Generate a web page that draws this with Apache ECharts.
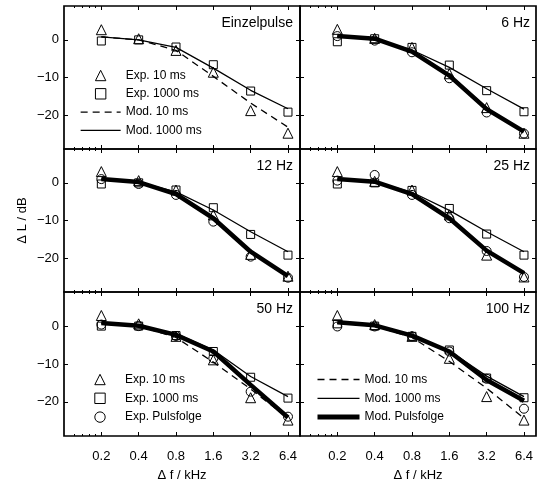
<!DOCTYPE html>
<html><head><meta charset="utf-8">
<script src="https://cdn.jsdelivr.net/npm/echarts@6/dist/echarts.min.js"></script>
<style>html,body{margin:0;padding:0;background:#fff}#c{width:539px;height:484px}</style>
</head><body><div id="c"></div>
<script>
// ---- data ----
const freqs = [0.2, 0.4, 0.8, 1.6, 3.2, 6.4];
const xTickLabels = ['0.2', '0.4', '0.8', '1.6', '3.2', '6.4'];
const minorTicks = [0.12, 0.14, 0.16, 0.18];
const yTicks = [-20, -10, 0];
const panelTitles = ['Einzelpulse', '6 Hz', '12 Hz', '25 Hz', '50 Hz', '100 Hz'];

// one row per panel (Einzelpulse, 6, 12, 25, 50, 100 Hz)
const exp10ms = [
  [2.7, 0.3, -2.8, -8.6, -18.8, -24.8],
  [2.8, 0.4, -2.0, -9.0, -18.0, -24.8],
  [3.0, 0.6, -1.9, -8.5, -19.0, -24.8],
  [3.0, 0.4, -1.9, -8.5, -19.2, -25.0],
  [2.8, 0.6, -2.7, -8.9, -18.9, -24.8],
  [2.8, 0.4, -2.7, -8.5, -18.6, -24.8]
];
const exp1000ms = [
  [-0.3, 0.0, -1.9, -6.6, -13.6, -19.2],
  [-0.5, 0.3, -2.0, -6.7, -13.5, -19.1],
  [-0.3, 0.0, -1.9, -6.6, -13.7, -19.2],
  [-0.3, 0.0, -2.0, -6.8, -13.6, -19.2],
  [0.0, 0.0, -2.5, -6.7, -13.5, -19.0],
  [0.6, 0.0, -2.7, -6.3, -13.7, -18.9]
];
const expPuls = [
  null,
  [1.0, -0.2, -3.3, -10.2, -19.3, -24.9],
  [1.0, -0.3, -3.2, -10.3, -19.6, -25.2],
  [0.6, 2.1, -3.2, -9.4, -18.1, -25.0],
  [0.4, 0.0, -2.6, -8.5, -17.3, -23.9],
  [-0.1, -0.1, -2.7, -6.7, -13.9, -21.8]
];
const mod10ms = [
  [0.8, 0.0, -2.8, -9.7, -16.8, -23.2],
  [1.0, 0.0, -3.0, -9.2, -18.0, -24.5],
  [1.0, 0.0, -3.0, -9.2, -18.2, -24.5],
  [1.0, 0.0, -3.0, -9.2, -18.0, -24.3],
  [0.8, 0.0, -3.0, -9.5, -16.6, -24.3],
  [0.8, 0.0, -3.0, -9.3, -16.4, -24.3]
];
const mod1000ms = [
  [0.8, 0.0, -2.0, -7.5, -13.4, -18.3],
  [1.0, 0.3, -2.7, -7.3, -13.0, -18.4],
  [1.0, 0.2, -2.4, -7.2, -13.0, -18.3],
  [1.0, 0.3, -2.5, -7.3, -13.0, -18.3],
  [0.8, 0.1, -2.0, -6.3, -13.3, -18.6],
  [0.8, 0.2, -2.5, -6.5, -13.2, -18.6]
];
const modPuls = [
  null,
  [1.0, 0.3, -3.1, -9.5, -18.4, -24.4],
  [1.0, 0.2, -3.0, -9.4, -18.3, -24.8],
  [1.0, 0.3, -3.0, -9.4, -18.0, -24.0],
  [0.8, 0.1, -2.3, -6.7, -15.5, -24.1],
  [1.0, 0.2, -2.5, -6.7, -14.2, -19.7]
];

// ---- layout ----
const FONT = '"Liberation Sans", Arial, sans-serif';
const colLeft = [64, 300], colW = 236;
const rowTop = [6, 149, 292], rowH = [143, 143, 144];

const grids = [], xAxes = [], yAxes = [], series = [], titles = [];
function fmtX(v) {
  const k = freqs.findIndex(f => Math.abs(f - v) < 1e-6);
  return k >= 0 ? xTickLabels[k] : '';
}
const pts = arr => freqs.map((f, j) => [f, arr[j]]);
const tickStyle = { color: '#000', width: 1 };
const DASH = [7, 5];

for (let i = 0; i < 6; i++) {
  const r = Math.floor(i / 2), c = i % 2;
  grids.push({
    left: colLeft[c], top: rowTop[r], width: colW, height: rowH[r],
    show: true, borderColor: '#000', borderWidth: 1.7, backgroundColor: 'transparent'
  });
  const baseX = {
    type: 'log', logBase: 10, min: 0.1, max: 8, gridIndex: i,
    axisLine: { show: false, onZero: false }, splitLine: { show: false }, minorTick: { show: false }
  };
  xAxes.push(Object.assign({}, baseX, {
    position: 'bottom',
    axisTick: { show: true, inside: true, length: 4, customValues: freqs, lineStyle: tickStyle },
    axisLabel: { show: r === 2, customValues: freqs, formatter: fmtX, fontSize: 13, color: '#000', fontFamily: FONT, margin: 14 },
    name: r === 2 ? 'Δ f / kHz' : '', nameLocation: 'middle', nameGap: 33,
    nameTextStyle: { fontSize: 13, color: '#000', fontFamily: FONT }
  }));
  xAxes.push(Object.assign({}, baseX, {
    position: 'top',
    axisTick: { show: true, inside: true, length: 4, customValues: freqs, lineStyle: tickStyle },
    axisLabel: { show: false }
  }));
  xAxes.push(Object.assign({}, baseX, {
    position: 'bottom',
    axisTick: { show: true, inside: true, length: 2, customValues: minorTicks, lineStyle: tickStyle },
    axisLabel: { show: false }
  }));
  xAxes.push(Object.assign({}, baseX, {
    position: 'top',
    axisTick: { show: true, inside: true, length: 2, customValues: minorTicks, lineStyle: tickStyle },
    axisLabel: { show: false }
  }));
  const baseY = {
    type: 'value', min: -29, max: 9, gridIndex: i,
    axisLine: { show: false, onZero: false }, splitLine: { show: false }
  };
  yAxes.push(Object.assign({}, baseY, {
    position: 'left',
    axisTick: { show: true, inside: true, length: 4, customValues: yTicks, lineStyle: tickStyle },
    axisLabel: { show: c === 0, customValues: yTicks, formatter: v => String(v).replace('-', '\u2212'),
      fontSize: 13, color: '#000', fontFamily: FONT, margin: 5 },
    name: i === 2 ? 'Δ L / dB' : '', nameLocation: 'middle', nameGap: 35,
    nameTextStyle: { fontSize: 13, color: '#000', fontFamily: FONT }
  }));
  yAxes.push(Object.assign({}, baseY, {
    position: 'right',
    axisTick: { show: true, inside: true, length: 4, customValues: yTicks, lineStyle: tickStyle },
    axisLabel: { show: false }
  }));

  const xi = i * 4, yi = i * 2;
  const mk = { color: 'transparent', borderColor: '#000', borderWidth: 1 };
  const noLine = { width: 0, opacity: 0 };
  const hiddenSym = { color: 'transparent', borderWidth: 0 };
  series.push({ name: 'Mod. 10 ms', type: 'line', xAxisIndex: xi, yAxisIndex: yi, symbol: 'none', z: 2,
    lineStyle: { color: '#000', width: 1.3, type: DASH }, itemStyle: hiddenSym, data: pts(mod10ms[i]) });
  series.push({ name: 'Mod. 1000 ms', type: 'line', xAxisIndex: xi, yAxisIndex: yi, symbol: 'none', z: 2,
    lineStyle: { color: '#000', width: 1.3 }, itemStyle: hiddenSym, data: pts(mod1000ms[i]) });
  if (modPuls[i]) series.push({ name: 'Mod. Pulsfolge', type: 'line', xAxisIndex: xi, yAxisIndex: yi, symbol: 'none', z: 2,
    lineStyle: { color: '#000', width: 4.5 }, itemStyle: hiddenSym, data: pts(modPuls[i]) });
  series.push({ name: 'Exp. 10 ms', type: 'line', xAxisIndex: xi, yAxisIndex: yi, symbol: 'triangle', symbolSize: 10, z: 3,
    showSymbol: true, lineStyle: noLine, itemStyle: mk, data: pts(exp10ms[i]) });
  series.push({ name: 'Exp. 1000 ms', type: 'line', xAxisIndex: xi, yAxisIndex: yi, symbol: 'rect', symbolSize: 8, z: 3,
    showSymbol: true, lineStyle: noLine, itemStyle: mk, data: pts(exp1000ms[i]) });
  if (expPuls[i]) series.push({ name: 'Exp. Pulsfolge', type: 'line', xAxisIndex: xi, yAxisIndex: yi, symbol: 'circle', symbolSize: 9, z: 3,
    showSymbol: true, lineStyle: noLine, itemStyle: mk, data: pts(expPuls[i]) });

  titles.push({
    text: panelTitles[i], right: c === 0 ? 246 : 9, top: rowTop[r] + 10, padding: 0,
    textStyle: { fontSize: 14, fontWeight: 'normal', color: '#000', fontFamily: FONT }
  });
}

// legend entry styles
const symEntry = name => ({ name, itemStyle: { color: 'transparent', borderColor: '#000', borderWidth: 1 }, lineStyle: { width: 0, opacity: 0 } });
const lineEntry = (name, width, type) => ({ name, itemStyle: { color: 'transparent', borderWidth: 0 },
  lineStyle: { color: '#000', width, type: type || 'solid', opacity: 1 } });

const legBase = { orient: 'vertical', padding: 0, itemGap: 5.5, itemHeight: 13, selectedMode: false,
  textStyle: { fontSize: 12, color: '#000', fontFamily: FONT } };
const legends = [
  Object.assign({}, legBase, { left: 80, top: 69.5, itemWidth: 40, itemGap: 6.3, data: [
    symEntry('Exp. 10 ms'), symEntry('Exp. 1000 ms'), lineEntry('Mod. 10 ms', 1.3, DASH), lineEntry('Mod. 1000 ms', 1.3)] }),
  Object.assign({}, legBase, { left: 80, top: 373.5, itemWidth: 40, itemGap: 6.8, data: [
    symEntry('Exp. 10 ms'), symEntry('Exp. 1000 ms'), symEntry('Exp. Pulsfolge')] }),
  Object.assign({}, legBase, { left: 315, top: 373.5, itemWidth: 42, itemGap: 6.8, data: [
    lineEntry('Mod. 10 ms', 1.3, DASH), lineEntry('Mod. 1000 ms', 1.3), lineEntry('Mod. Pulsfolge', 5)] })
];

const chart = echarts.init(document.getElementById('c'), null, { renderer: 'canvas' });
chart.setOption({
  backgroundColor: '#fff',
  animation: false,
  title: titles,
  legend: legends,
  grid: grids,
  xAxis: xAxes,
  yAxis: yAxes,
  series: series
});
</script></body></html>
